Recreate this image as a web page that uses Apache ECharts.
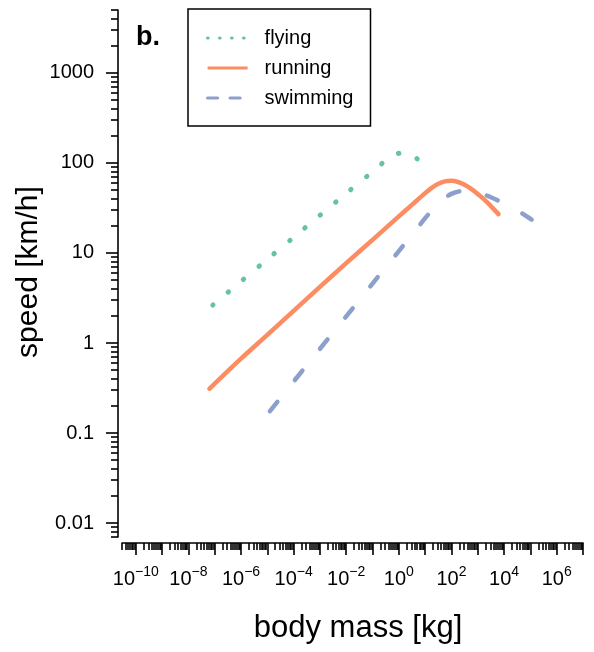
<!DOCTYPE html>
<html>
<head>
<meta charset="utf-8">
<script src="https://cdn.jsdelivr.net/npm/echarts@6/dist/echarts.min.js"></script>
<style>
  html, body { margin: 0; padding: 0; background: #fff; }
  #chart { width: 594px; height: 652px; }
</style>
</head>
<body>
<div id="chart"></div>
<script>
// body mass [kg] / speed [km/h]
const flyingMass = [8.5e-8, 1e-6, 1e-5, 1e-4, 1e-3, 1e-2, 0.1, 0.32, 0.56, 1, 1.6, 2.5, 4, 5, 6.3]
const flyingSpeed = [2.64, 4.83, 8.5, 14.9, 26.2, 45.9, 80, 107, 120, 128, 130, 126, 117, 111, 105]

const runningMass = [6.3e-8, 1e-6, 1e-5, 1e-4, 1e-3, 1e-2, 0.1, 1, 3.2, 10, 17.8, 31.6, 56, 100, 178, 316, 562, 1000, 1780, 3160, 6150]
const runningSpeed = [0.31, 0.67, 1.23, 2.27, 4.2, 7.7, 14.0, 25.5, 34.4, 46.2, 52.8, 58.7, 62.5, 63.4, 61.4, 57.1, 51.5, 45.2, 39.1, 33.2, 27]

const swimmingMass = [1.26e-5, 1e-4, 1e-3, 1e-2, 0.1, 1, 3.2, 10, 17.8, 31.6, 56, 100, 178, 316, 562, 1000, 2240, 5620, 17800, 39800, 72400, 112000]
const swimmingSpeed = [0.175, 0.373, 0.86, 1.98, 4.57, 10.5, 16.0, 24.4, 29.5, 35.3, 41.0, 45.3, 48.0, 49.0, 48.5, 46.8, 43.4, 38.5, 32.5, 28.5, 25.5, 23.5]

const legendNames = ['flying', 'running', 'swimming']

// axes
const xLabelExp = [-10, -8, -6, -4, -2, 0, 2, 4, 6]
const yTickValues = [0.01, 0.1, 1, 10, 100, 1000]
const yTickLabels = ['0.01', '0.1', '1', '10', '100', '1000']

const FONT = 'Liberation Sans'
const xMin = 3e-11, xMax = 1e7
const yMin = 0.007, yMax = 5000

const pairs = (xs, ys) => xs.map((x, i) => [x, ys[i]])
const round3 = v => Number(v.toPrecision(3))

function decadeTicks(lo, hi, minor) {
    const out = []
    for (let e = Math.floor(Math.log10(lo)) - 1; e <= Math.ceil(Math.log10(hi)); e++) {
        const ms = minor ? [2, 3, 4, 5, 6, 7, 8, 9] : [1]
        ms.forEach(m => {
            const v = round3(m * Math.pow(10, e))
            if (v >= lo * 0.9999 && v <= hi * 1.0001) out.push(v)
        })
    }
    return out
}

const xMajor = decadeTicks(xMin, xMax, false)
const xMinor = decadeTicks(xMin, xMax, true)
const yMajor = decadeTicks(yMin, yMax, false)
const yMinor = decadeTicks(yMin, yMax, true)
const xLabelVals = xLabelExp.map(e => round3(Math.pow(10, e)))

const axisLineStyle = {color: '#000', width: 1.6}

function xAxisBase(ticks, long, withLabels) {
    return {
        type: 'log', logBase: 10, min: xMin, max: xMax,
        position: 'bottom', offset: 6,
        axisLine: {show: withLabels, lineStyle: axisLineStyle},
        axisTick: {show: true, customValues: ticks, length: long ? 12 : 7, lineStyle: axisLineStyle},
        axisLabel: withLabels ? {
            show: true, customValues: xLabelVals, margin: 22, color: '#000',
            formatter: v => {
                const e = Math.round(Math.log10(v))
                return '{b|10}{s|' + (e < 0 ? '\u2212' + (-e) : e) + '}'
            },
            rich: {
                b: {fontSize: 20, lineHeight: 28, fontFamily: FONT, color: '#000'},
                s: {fontSize: 14, lineHeight: 14, verticalAlign: 'top', fontFamily: FONT, color: '#000'}
            }
        } : {show: false},
        splitLine: {show: false}
    }
}

function yAxisBase(ticks, long, withLabels) {
    return {
        type: 'log', logBase: 10, min: yMin, max: yMax,
        position: 'left', offset: 4,
        axisLine: {show: withLabels, lineStyle: axisLineStyle},
        axisTick: {show: true, customValues: ticks, length: long ? 12 : 7, lineStyle: axisLineStyle},
        axisLabel: withLabels ? {
            show: true, customValues: yTickValues, margin: 24, color: '#000',
            fontSize: 20, fontFamily: FONT,
            formatter: v => {
                const i = yTickValues.findIndex(t => Math.abs(Math.log10(t) - Math.log10(v)) < 1e-6)
                return i >= 0 ? yTickLabels[i] : ''
            }
        } : {show: false},
        splitLine: {show: false}
    }
}

const colors = {flying: '#66c2a5', running: '#fc8d62', swimming: '#8da0cb'}
const noSymbol = {color: 'rgba(0,0,0,0)', opacity: 0, borderWidth: 0}

const chart = echarts.init(document.getElementById('chart'))
chart.setOption({
    animation: false,
    backgroundColor: '#fff',
    grid: {left: 122, right: 11, top: 10, bottom: 115, containLabel: false},
    xAxis: [xAxisBase(xMajor, true, true), xAxisBase(xMinor, false, false)],
    yAxis: [yAxisBase(yMajor, true, true), yAxisBase(yMinor, false, false)],
    legend: {
        orient: 'vertical', left: 188, top: 9,
        padding: [19, 17, 18, 18],
        borderColor: '#000', borderWidth: 1.5, borderRadius: 0,
        itemWidth: 40, itemHeight: 20, itemGap: 10,
        selectedMode: false,
        textStyle: {fontSize: 20, color: '#000', fontFamily: FONT, padding: [0, 0, 0, 12]},
        data: [
            {name: legendNames[0], itemStyle: noSymbol, lineStyle: {color: colors.flying, width: 3.2, type: [0.5, 11.5], cap: 'round'}},
            {name: legendNames[1], itemStyle: noSymbol, lineStyle: {color: colors.running, width: 3.2, type: 'solid', cap: 'butt'}},
            {name: legendNames[2], itemStyle: noSymbol, lineStyle: {color: colors.swimming, width: 3.2, type: [10, 12.5], cap: 'round'}}
        ]
    },
    graphic: [
        {type: 'text', left: 136, top: 24, style: {text: 'b.', font: 'bold 27px "Liberation Sans"', fill: '#000'}},
        {type: 'text', x: 29, y: 272, rotation: Math.PI / 2,
         style: {text: 'speed [km/h]', font: '30px "Liberation Sans"', fill: '#000', align: 'center', verticalAlign: 'middle'}},
        {type: 'text', x: 358, y: 628,
         style: {text: 'body mass [kg]', font: '31px "Liberation Sans"', fill: '#000', align: 'center', verticalAlign: 'middle'}}
    ],
    series: [
        {
            name: legendNames[0], type: 'line', symbol: 'none', smooth: 0.3, silent: true,
            data: pairs(flyingMass, flyingSpeed),
            itemStyle: {color: colors.flying},
            lineStyle: {color: colors.flying, width: 5, type: [0.5, 19.5], cap: 'round'}
        },
        {
            name: legendNames[1], type: 'line', symbol: 'none', smooth: 0.3, silent: true,
            data: pairs(runningMass, runningSpeed),
            itemStyle: {color: colors.running},
            lineStyle: {color: colors.running, width: 4.5, cap: 'round', join: 'round'}
        },
        {
            name: legendNames[2], type: 'line', symbol: 'none', smooth: 0.3, silent: true,
            data: pairs(swimmingMass, swimmingSpeed),
            itemStyle: {color: colors.swimming},
            lineStyle: {color: colors.swimming, width: 4.5, type: [12, 28], cap: 'round'}
        }
    ]
})
</script>
</body>
</html>
